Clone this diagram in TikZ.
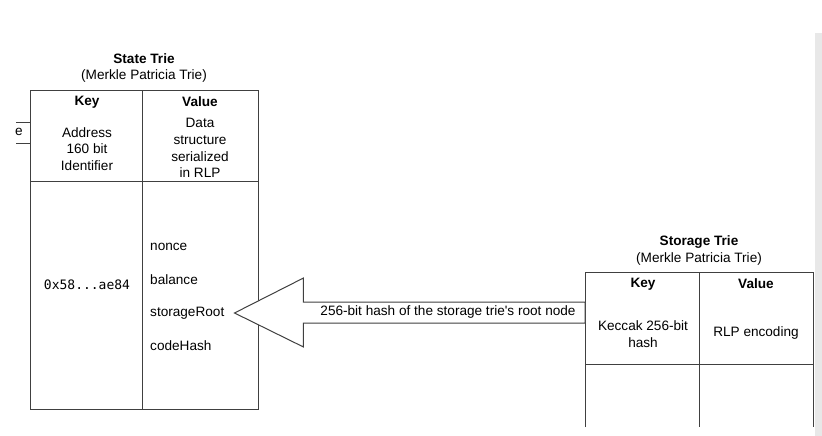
\documentclass[tikz,border=0pt]{standalone}
\usepackage{fontspec}
\setmainfont{Liberation Sans}
\newfontfamily\hexfont{DejaVu Sans Mono}

\definecolor{rulegray}{RGB}{64,64,64}
\definecolor{sidebar}{RGB}{232,232,232}

\tikzset{
    title/.style={inner sep=0pt, font=\fontsize{13.6}{16.8}\selectfont\bfseries},
    cell/.style={inner sep=0pt, align=center, font=\fontsize{13.6}{16.8}\selectfont},
    field/.style={inner sep=0pt, anchor=west, font=\fontsize{13.6}{16.8}\selectfont},
    tline/.style={rulegray, line width=1pt}
}

\begin{document}
\begin{tikzpicture}[x=1pt, y=-1pt]
    \useasboundingbox (0,0) rectangle (822,436);
    \fill[sidebar] (815,33) rectangle (822,436);

    % piece of the box cut off on the left
    \draw[tline] (16,122) -- (30,122);
    \draw[tline] (16,143) -- (30,143);
    \node[cell] (frag) at (19,132) {e};

    % state trie
    \node[title] (stitle) at (144,59) {State Trie};
    \node[cell] (ssub) at (144,76) {(Merkle Patricia Trie)};
    \draw[tline] (30,90) rectangle (258,409);
    \draw[tline] (142,90) -- (142,409);
    \draw[tline] (30,181) -- (258,181);
    \node[title] (skey) at (87,102) {Key};
    \node[title] (sval) at (200,102) {Value};
    \node[cell] (saddr) at (87,149) {Address\\160 bit\\Identifier};
    \node[cell] (sdata) at (200,148) {Data\\structure\\serialized\\in RLP};
    \node[inner sep=0pt, font=\hexfont\fontsize{13}{15}\selectfont] (shex) at (87,285) {0x58...ae84};
    \node[field] (fnonce) at (150,247) {nonce};
    \node[field] (fbalance) at (150,280) {balance};
    \node[field] (froot) at (150,313) {storageRoot};
    \node[field] (fcode) at (150,346) {codeHash};

    % storage trie
    \node[title] (gtitle) at (699,242) {Storage Trie};
    \node[cell] (gsub) at (699,259) {(Merkle Patricia Trie)};
    \draw[tline] (585,427) -- (585,272) -- (813,272) -- (813,427);
    \draw[tline] (699,272) -- (699,427);
    \draw[tline] (585,364) -- (813,364);
    \node[title] (gkey) at (643,284) {Key};
    \node[title] (gval) at (756,284) {Value};
    \node[cell] (ghash) at (643,334) {Keccak 256-bit\\hash};
    \node[cell] (grlp) at (756,333) {RLP encoding};

    % hollow arrow from the storage trie to storageRoot
    \coordinate (tip) at ([xshift=10]froot.east);
    \coordinate (headtop) at ([shift={(69,-35)}]tip);
    \coordinate (headbot) at ([shift={(69,34)}]tip);
    \coordinate (shaftup) at (585,302);
    \coordinate (shaftdn) at (585,323);
    \draw[tline, fill=white] (tip) -- (headtop) -- (shaftup -| headtop) -- (shaftup)
        -- (shaftdn) -- (shaftdn -| headtop) -- (headbot) -- cycle;
    \node[cell] (hashlabel) at (448,312) {256-bit hash of the storage trie\textquotesingle s root node};
\end{tikzpicture}
\end{document}
